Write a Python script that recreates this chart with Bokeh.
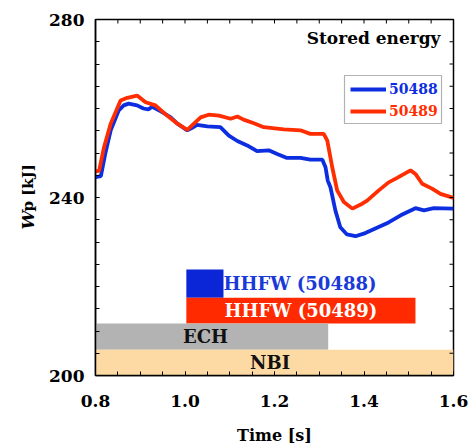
import math

from bokeh.core.properties import value
from bokeh.embed import file_html
from bokeh.layouts import row
from bokeh.models import (BoxAnnotation, ColumnDataSource, Label, Legend,
                          LegendItem, FixedTicker)
from bokeh.plotting import figure
from bokeh.resources import INLINE

# Stored energy Wp [kJ] versus time [s] for two discharges
t_50488 = [0.800, 0.812, 0.822, 0.834, 0.852, 0.863, 0.874, 0.893, 0.907, 0.918,
           0.927, 0.949, 0.968, 0.983, 1.005, 1.015, 1.027, 1.050, 1.079, 1.098,
           1.117, 1.139, 1.161, 1.187, 1.206, 1.228, 1.258, 1.280, 1.307, 1.314,
           1.319, 1.325, 1.336, 1.347, 1.362, 1.381, 1.403, 1.429, 1.455, 1.482,
           1.515, 1.534, 1.556, 1.600]
wp_50488 = [244.6, 244.8, 249.9, 255.1, 259.6, 260.7, 261.1, 260.7, 260.0, 259.8,
            260.4, 259.2, 258.0, 256.6, 255.1, 255.6, 256.3, 256.0, 255.8, 253.9,
            252.7, 251.7, 250.4, 250.6, 249.8, 248.9, 248.9, 248.5, 248.5, 246.8,
            243.8, 242.3, 237.1, 233.3, 231.7, 231.3, 232.0, 233.2, 234.4, 236.0,
            237.6, 237.1, 237.6, 237.5]

t_50489 = [0.800, 0.808, 0.819, 0.834, 0.856, 0.871, 0.893, 0.912, 0.934, 0.960,
           0.983, 1.005, 1.020, 1.035, 1.053, 1.076, 1.102, 1.117, 1.131, 1.154,
           1.176, 1.221, 1.258, 1.280, 1.310, 1.318, 1.329, 1.340, 1.355, 1.374,
           1.396, 1.407, 1.433, 1.455, 1.474, 1.504, 1.515, 1.530, 1.552, 1.571,
           1.600]
wp_50489 = [245.9, 246.0, 251.3, 256.6, 261.8, 262.4, 262.9, 261.4, 260.7, 258.4,
            256.6, 255.2, 256.6, 258.0, 258.6, 258.4, 257.7, 258.2, 257.5, 256.7,
            255.8, 255.3, 255.1, 254.3, 254.3, 252.8, 246.8, 241.6, 239.0, 237.5,
            238.6, 239.3, 241.6, 243.4, 244.4, 246.1, 245.3, 243.1, 242.0, 240.8,
            239.9]

# Heating windows, drawn as bands in the lower part of the axes
heat_names = ["HHFW (50488)", "HHFW (50489)", "ECH", "NBI"]
heat_on = [1.003, 1.003, 0.800, 0.795]
heat_off = [1.086, 1.515, 1.320, 1.600]
band_lo = [217.5, 211.7, 205.8, 200.0]
band_hi = [223.8, 217.5, 211.7, 205.8]
band_colors = ["#0a26d6", "#ff2a00", "#b3b3b3", "#fdd9a3"]
name_x = [1.257, 1.259, 1.046, 1.190]
name_colors = ["#1a3ad8", "#ffffff", "#111111", "#111111"]

x_major = [0.8, 1.0, 1.2, 1.4, 1.6]
x_tick_labels = ["0.8", "1.0", "1.2", "1.4", "1.6"]
y_major = [200, 240, 280]
x_minor = [round(0.8 + 0.05 * i, 3) for i in range(17)]
y_minor = [200 + 5 * i for i in range(17)]

BLUE = "#0d2ee0"
RED = "#ff2d00"
FONT = "DejaVu Serif"

p = figure(width=434, height=448, x_range=(0.8, 1.6), y_range=(200, 280),
           output_backend="svg", toolbar_location=None, title=None,
           min_border_left=55, min_border_right=21,
           min_border_top=19, min_border_bottom=73)
p.grid.visible = False
p.outline_line_color = "black"
p.outline_line_width = 1.5

bands = ColumnDataSource(dict(left=heat_on, right=heat_off, bottom=band_lo,
                              top=band_hi, color=band_colors))
p.quad(left="left", right="right", bottom="bottom", top="top",
       fill_color="color", line_color=None, source=bands)

names = ColumnDataSource(dict(x=name_x, y=[(a + b) / 2 for a, b in zip(band_lo, band_hi)],
                              text=heat_names, color=name_colors))
p.text(x="x", y="y", text="text", source=names, text_color="color",
       text_font=value(FONT), text_font_style="bold", text_font_size="18px",
       text_align="center", text_baseline="middle")

r488 = p.line(t_50488, wp_50488, line_color=BLUE, line_width=3.8)
r489 = p.line(t_50489, wp_50489, line_color=RED, line_width=3.8)

# inward ticks on the top and right edges of the frame
tick_dx = (1.6 - 0.8) * 4 / 358
tick_dy = (280 - 200) * 4 / 356
p.segment(x0=x_minor, y0=[280] * len(x_minor), x1=x_minor,
          y1=[280 - tick_dy] * len(x_minor), line_color="black", line_width=1)
p.segment(x0=[1.6] * len(y_minor), y0=y_minor, x1=[1.6 - tick_dx] * len(y_minor),
          y1=y_minor, line_color="black", line_width=1)


def style_axis(ax, ticks, minor):
    ax.ticker = FixedTicker(ticks=ticks, minor_ticks=minor)
    ax.axis_line_width = 1.5
    ax.axis_line_color = "black"
    ax.major_tick_in = 4
    ax.major_tick_out = 0
    ax.minor_tick_in = 4
    ax.minor_tick_out = 0
    ax.major_tick_line_color = "black"
    ax.minor_tick_line_color = "black"
    ax.major_label_text_font = FONT
    ax.major_label_text_font_style = "bold"
    ax.major_label_text_color = "black"
    ax.major_label_text_font_size = "17px"


style_axis(p.xaxis[0], x_major, x_minor)
style_axis(p.yaxis[0], y_major, y_minor)
p.xaxis[0].major_label_overrides = dict(zip(x_major, x_tick_labels))
p.xaxis[0].major_label_standoff = 19
p.yaxis[0].major_label_standoff = 11
p.xaxis[0].axis_label = "Time [s]"
p.xaxis[0].axis_label_text_font = FONT
p.xaxis[0].axis_label_text_font_style = "bold"
p.xaxis[0].axis_label_text_font_size = "16px"
p.xaxis[0].axis_label_text_color = "black"
p.xaxis[0].axis_label_standoff = 16

p.add_layout(Label(x=345, y=338, x_units="screen", y_units="screen",
                   text="Stored energy", text_font=FONT, text_font_style="bold",
                   text_color="black", text_font_size="17px",
                   text_align="right", text_baseline="middle"))

# Legend: framed box holding one entry per shot, each label in its line colour
p.add_layout(BoxAnnotation(left=249, right=346, bottom=252, top=300,
                           left_units="screen", right_units="screen",
                           bottom_units="screen", top_units="screen",
                           fill_alpha=0, line_color="black", line_width=1.2))
for rend, label, color, vy in [(r488, "50488", BLUE, 276), (r489, "50489", RED, 254)]:
    lg = Legend(items=[LegendItem(label=label, renderers=[rend])],
                location=(255, vy), padding=0, margin=0, spacing=0,
                glyph_width=36, glyph_height=20, label_standoff=3,
                label_text_font=FONT, label_text_font_style="bold",
                label_text_font_size="14px", label_text_color=color,
                border_line_alpha=0, background_fill_alpha=0)
    p.add_layout(lg)

# y-axis title strip beside the frame (pixel units from the frame bottom),
# with an italic W
ylab = figure(width=40, height=448, x_range=(0, 40), y_range=(0, 356),
              output_backend="svg", toolbar_location=None, title=None,
              x_axis_type=None, y_axis_type=None,
              min_border_left=0, min_border_right=0,
              min_border_top=19, min_border_bottom=73)
ylab.grid.visible = False
ylab.outline_line_color = None
ylab.text(x=[27], y=[146], text=["W"], angle=math.pi / 2,
          text_font=value(FONT), text_font_style="bold italic",
          text_font_size="17px", text_align="left", text_baseline="middle",
          text_color="black")
ylab.text(x=[27], y=[164], text=["p [kJ]"], angle=math.pi / 2,
          text_font=value(FONT), text_font_style="bold",
          text_font_size="15px", text_align="left", text_baseline="middle",
          text_color="black")

layout = row(ylab, p, spacing=0)
open("out.html", "w").write(file_html(layout, INLINE))
